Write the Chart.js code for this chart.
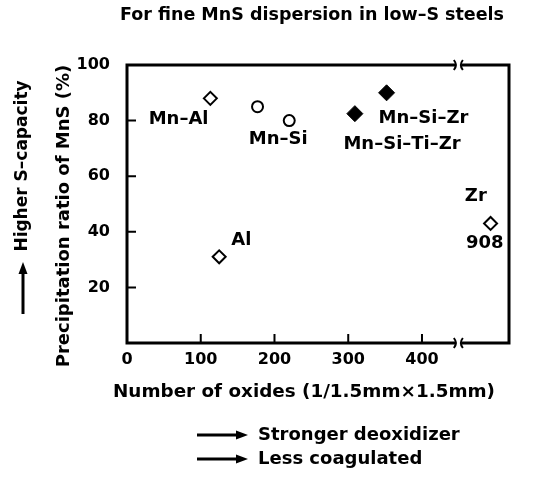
<html>
<head>
<script src="https://cdn.jsdelivr.net/npm/chart.js"></script>
<style>
  body { margin: 0; background: #fff; }
</style>
</head>
<body>
<div style="width:534px;height:479px"><canvas id="myChart"></canvas></div>
<script>
// number of oxides (x) and precipitation ratio of MnS in % (y)
const mnAlOxides = [113], mnAlRatio = [88];
const alOxides = [125], alRatio = [31];
const zrOxides = [908], zrRatio = [43];
const mnSiOxides = [177, 220], mnSiRatio = [85, 80];
const mnSiZrOxides = [309, 352], mnSiZrRatio = [82.5, 90]; // Mn-Si-Ti-Zr, Mn-Si-Zr

const xTickValues = [0, 100, 200, 300, 400];
const yTickValues = [20, 40, 60, 80, 100];

// broken x axis: after the break the axis jumps to resumeAt
const breakAt = 445, breakGap = 10, resumeAt = 870;
function axisX(v) { return v > breakAt ? breakAt + breakGap + (v - resumeAt) : v; }
function pts(xs, ys) { return xs.map((x, i) => ({ x: axisX(x), y: ys[i] })); }

// label placement, in axis units
const labels = [
  { text: 'Mn–Al', x: 70, y: 80.4 },
  { text: 'Mn–Si', x: 205, y: 73.2 },
  { text: 'Mn–Si–Zr', x: 402, y: 80.7 },
  { text: 'Mn–Si–Ti–Zr', x: 373, y: 71.4 },
  { text: 'Al', x: 155, y: 37 },
  { text: 'Zr', x: 473, y: 52.6 },
  { text: '908', x: 485, y: 35.7 },
];

const FONT = 'DejaVu Sans';

function arrow(ctx, x1, y1, x2, y2) {
  const a = Math.atan2(y2 - y1, x2 - x1), hl = 12, hw = 4.5;
  ctx.lineWidth = 3;
  ctx.beginPath();
  ctx.moveTo(x1, y1);
  ctx.lineTo(x2 - hl * Math.cos(a), y2 - hl * Math.sin(a));
  ctx.stroke();
  ctx.beginPath();
  ctx.moveTo(x2, y2);
  ctx.lineTo(x2 - hl * Math.cos(a) + hw * Math.sin(a), y2 - hl * Math.sin(a) - hw * Math.cos(a));
  ctx.lineTo(x2 - hl * Math.cos(a) - hw * Math.sin(a), y2 - hl * Math.sin(a) + hw * Math.cos(a));
  ctx.closePath();
  ctx.fill();
}

// draw text stretched to a given width
function fitText(ctx, text, cx, cy, width) {
  const k = width / ctx.measureText(text).width;
  ctx.save();
  ctx.translate(cx, cy);
  ctx.scale(k, 1);
  ctx.textAlign = 'center';
  ctx.fillText(text, 0, 0);
  ctx.restore();
}

const framePlugin = {
  id: 'frame',
  beforeDatasetsDraw(chart) {
    const ctx = chart.ctx, a = chart.chartArea;
    const xs = chart.scales.x, ys = chart.scales.y;
    const bp = xs.getPixelForValue(breakAt + breakGap / 2);
    ctx.save();
    ctx.strokeStyle = '#000';
    ctx.lineWidth = 3;
    ctx.lineCap = 'square';
    ctx.beginPath();
    ctx.moveTo(a.left, a.top); ctx.lineTo(a.left, a.bottom);
    ctx.moveTo(a.right, a.top); ctx.lineTo(a.right, a.bottom);
    [a.top, a.bottom].forEach(y => {
      ctx.moveTo(a.left, y); ctx.lineTo(bp - 4, y);
      ctx.moveTo(bp + 4, y); ctx.lineTo(a.right, y);
    });
    ctx.stroke();
    ctx.lineWidth = 2;
    ctx.lineCap = 'butt';
    [a.top, a.bottom].forEach(y => {
      ctx.beginPath();
      ctx.moveTo(bp - 5, y - 5); ctx.quadraticCurveTo(bp - 1, y, bp - 5, y + 5);
      ctx.moveTo(bp + 4, y - 5); ctx.quadraticCurveTo(bp, y, bp + 4, y + 5);
      ctx.stroke();
    });
    // inward tick marks
    ctx.beginPath();
    xs.ticks.forEach(t => {
      if (t.value > 0 && t.value <= 400) {
        const p = xs.getPixelForValue(t.value);
        ctx.moveTo(p, a.bottom); ctx.lineTo(p, a.bottom - 9);
      }
    });
    ys.ticks.forEach(t => {
      if (t.value > 0 && t.value < 100) {
        const p = ys.getPixelForValue(t.value);
        ctx.moveTo(a.left, p); ctx.lineTo(a.left + 9, p);
      }
    });
    ctx.stroke();
    ctx.restore();
  },
  afterDraw(chart) {
    const ctx = chart.ctx;
    const xs = chart.scales.x, ys = chart.scales.y;
    ctx.save();
    ctx.fillStyle = '#000';
    ctx.strokeStyle = '#000';
    ctx.textBaseline = 'middle';
    ctx.textAlign = 'center';
    ctx.font = 'bold 18px ' + FONT;
    labels.forEach(l => ctx.fillText(l.text, xs.getPixelForValue(l.x), ys.getPixelForValue(l.y)));

    ctx.font = 'bold 17.5px ' + FONT;
    ctx.fillText('For fine MnS dispersion in low–S steels', 312, 15);

    ctx.font = 'bold 18px ' + FONT;
    fitText(ctx, 'Number of oxides (1/1.5mm×1.5mm)', 304, 392, 382);
    ctx.textAlign = 'left';
    ctx.fillText('Stronger deoxidizer', 258, 435);
    ctx.fillText('Less coagulated', 258, 459);
    arrow(ctx, 197, 435, 248, 435);
    arrow(ctx, 197, 459, 248, 459);

    ctx.save();
    ctx.translate(64, 216);
    ctx.rotate(-Math.PI / 2);
    ctx.textAlign = 'center';
    ctx.fillText('Precipitation ratio of MnS (%)', 0, 0);
    ctx.restore();

    ctx.save();
    ctx.translate(23, 166);
    ctx.rotate(-Math.PI / 2);
    ctx.textAlign = 'center';
    ctx.font = 'bold 17px ' + FONT;
    ctx.fillText('Higher S–capacity', 0, 0);
    ctx.restore();
    arrow(ctx, 23, 314, 23, 262);
    ctx.restore();
  }
};

const openDiamond = { pointStyle: 'rectRot', pointRadius: 6.5, pointHoverRadius: 6.5, backgroundColor: '#fff', borderColor: '#000', borderWidth: 2 };

const data = {
  datasets: [
    Object.assign({ label: 'Mn-Al', data: pts(mnAlOxides, mnAlRatio) }, openDiamond),
    Object.assign({ label: 'Al', data: pts(alOxides, alRatio) }, openDiamond),
    Object.assign({ label: 'Zr', data: pts(zrOxides, zrRatio) }, openDiamond),
    {
      label: 'Mn-Si', data: pts(mnSiOxides, mnSiRatio),
      pointStyle: 'circle', pointRadius: 5.5, pointHoverRadius: 5.5,
      backgroundColor: '#fff', borderColor: '#000', borderWidth: 2
    },
    {
      label: 'Mn-Si-Zr', data: pts(mnSiZrOxides, mnSiZrRatio),
      pointStyle: 'rectRot', pointRadius: 8, pointHoverRadius: 8,
      backgroundColor: '#000', borderColor: '#000', borderWidth: 1
    },
  ]
};

const tickFont = { family: FONT, weight: 'bold', size: 16 };

const options = {
  animation: false,
  responsive: true,
  maintainAspectRatio: false,
  layout: { padding: { top: 65, right: 25, left: 0, bottom: 0 } },
  scales: {
    x: {
      type: 'linear', min: 0, max: 518,
      grid: { display: false, drawTicks: false },
      border: { display: false },
      afterBuildTicks(s) { s.ticks = xTickValues.map(v => ({ value: v })); },
      afterFit(s) { s.height = 136; },
      ticks: { color: '#000', font: tickFont, padding: 7, maxRotation: 0 }
    },
    y: {
      type: 'linear', min: 0, max: 100,
      grid: { display: false, drawTicks: false },
      border: { display: false },
      afterBuildTicks(s) { s.ticks = yTickValues.map(v => ({ value: v })); },
      afterFit(s) { s.width = 127; },
      ticks: { color: '#000', font: tickFont, padding: 17 }
    }
  },
  plugins: { legend: { display: false }, tooltip: { enabled: false } }
};

new Chart(document.getElementById('myChart'), { type: 'scatter', data, options, plugins: [framePlugin] });
</script>
</body>
</html>
